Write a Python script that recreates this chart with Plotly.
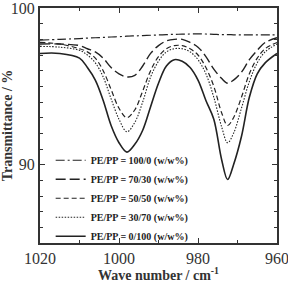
import plotly.graph_objects as go

wn = [1020, 1015, 1010, 1008, 1006, 1004, 1002, 1000, 998, 996, 994, 992, 990, 988,
      986, 984, 982, 980, 978, 976, 974, 972.5, 971, 969, 967, 965, 963, 960]

t_100_0 = [97.95, 98.0, 98.05, 98.08, 98.1, 98.12, 98.15, 98.17, 98.2, 98.22, 98.24, 98.26, 98.28, 98.3,
           98.32, 98.33, 98.34, 98.35, 98.34, 98.32, 98.3, 98.3, 98.29, 98.28, 98.28, 98.28, 98.28, 98.28]
t_70_30 = [97.7, 97.7, 97.6, 97.4, 97.2, 96.8, 96.2, 95.8, 95.6, 95.7, 96.3, 97.1, 97.6, 97.9,
           98.0, 98.0, 97.8, 97.5, 96.9, 96.1, 95.5, 95.2, 95.4, 95.9, 96.7, 97.3, 97.8, 98.1]
t_50_50 = [97.8, 97.7, 97.4, 97.2, 96.8, 96.0, 94.8, 93.6, 93.0, 93.5, 94.7, 96.0, 96.9, 97.4,
           97.6, 97.6, 97.4, 97.0, 96.2, 95.0, 93.3, 92.5, 93.0, 94.3, 95.8, 96.8, 97.4, 97.8]
t_30_70 = [97.55, 97.5, 97.3, 97.0, 96.5, 95.6, 94.2, 92.9, 92.1, 92.7, 94.0, 95.6, 96.6, 97.2,
           97.4, 97.4, 97.2, 96.7, 95.8, 94.3, 92.4, 91.4, 92.0, 93.6, 95.3, 96.5, 97.2, 97.7]
t_0_100 = [97.1, 97.1, 96.8, 96.2, 95.4, 94.1, 92.5, 91.4, 90.8, 91.3, 92.2, 93.7, 95.2, 96.3,
           96.7, 96.6, 96.2, 95.4, 94.1, 92.9, 90.3, 89.05, 90.0, 91.8, 94.3, 95.8, 96.5, 97.1]

names = ["PE/PP = 100/0 (w/w%)", "PE/PP = 70/30 (w/w%)", "PE/PP = 50/50 (w/w%)",
         "PE/PP = 30/70 (w/w%)", "PE/PP = 0/100 (w/w%)"]
series = [t_100_0, t_70_30, t_50_50, t_30_70, t_0_100]
dashes = ["9px,3px,2px,3px", "10px,4px", "5px,3px", "1.5px,1.5px", "solid"]
widths = [1.2, 1.4, 1.2, 1.1, 1.6]

fig = go.Figure()
for n, s, d, w in zip(names, series, dashes, widths):
    fig.add_trace(go.Scatter(x=wn, y=s, mode="lines", name=n,
                             line=dict(color="#222", width=w, dash=d, shape="spline", smoothing=1.0)))

serif = "Liberation Serif, Times New Roman, serif"
axis_common = dict(showline=True, linewidth=2, linecolor="#333", mirror="allticks",
                   ticks="inside", ticklen=5, tickwidth=1, tickcolor="#333",
                   showgrid=False, zeroline=False, automargin=False,
                   ticklabeloverflow="allow",
                   tickfont=dict(family=serif, size=16, color="#333", weight="normal"))

fig.update_layout(
    width=288, height=283,
    margin=dict(l=40, r=11, t=8, b=40),
    paper_bgcolor="white", plot_bgcolor="white",
    font=dict(family=serif, color="#333"),
    showlegend=True,
    legend=dict(x=0.045, y=-0.033, xanchor="left", yanchor="bottom",
                bgcolor="rgba(0,0,0,0)", borderwidth=0,
                font=dict(family=serif, size=10, color="#222", weight="bold"),
                tracegroupgap=0, itemwidth=30),
    xaxis=dict(range=[1020, 960], tickvals=[1020, 1000, 980, 960],
               minor=dict(dtick=10, ticks="inside", ticklen=3, tickcolor="#333"),
               title=dict(text="<b>Wave number / cm<sup>-1</sup></b>", standoff=3,
                          font=dict(family=serif, size=14, color="#333")),
               **axis_common),
    yaxis=dict(range=[85, 100], tickvals=[90, 100],
               minor=dict(dtick=1, ticks="inside", ticklen=3, tickcolor="#333"),
               title=dict(text="<b>Transmittance / %</b>", standoff=3,
                          font=dict(family=serif, size=14, color="#333")),
               **axis_common),
)

fig.write_html("out.html")
